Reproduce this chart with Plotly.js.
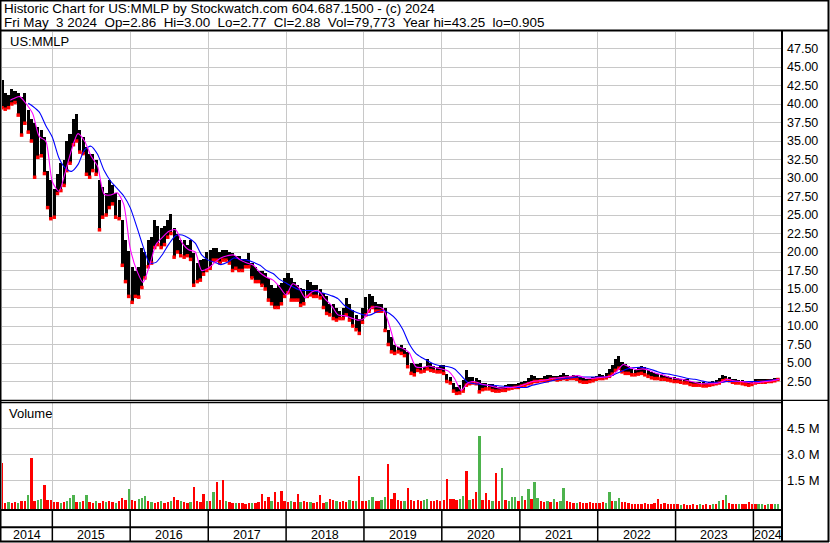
<!DOCTYPE html>
<html><head><meta charset="utf-8">
<script src="https://cdn.plot.ly/plotly-3.0.1.min.js"></script>
<style>html,body{margin:0;padding:0;background:#fff;}#chart{width:830px;height:543px;}</style>
</head><body><div id="chart"></div>
<script>
// ---------- DATA ----------
// half-month sampling grid (10th and 25th of each month), May 2014 .. Apr 2024
const periods = [];
(function(){ let y=2014, m=5; while(periods.length<240){ const mm=(m<10?'0':'')+m; periods.push(y+'-'+mm+'-10', y+'-'+mm+'-25'); m++; if(m>12){m=1;y++;} } })();

const priceHigh = [43.2,41.5,41.2,42.0,41.8,41.5,41.0,41.5,39.2,38.0,37.4,36.9,36.5,35.5,31.0,29.7,
 28.5,30.6,32.0,32.5,35.0,36.0,38.0,38.6,36.5,35.5,34.2,33.3,33.3,32.5,29.7,28.8,
 28.0,29.7,29.0,28.0,27.0,24.3,21.6,20.2,18.0,17.5,18.0,20.6,20.0,21.6,22.0,24.3,
 23.5,23.3,23.5,24.3,25.2,23.3,22.5,21.6,21.6,21.0,21.6,19.8,18.5,18.9,19.0,20.0,
 20.3,20.6,20.6,20.0,20.3,20.3,20.0,19.8,19.5,19.5,19.0,19.0,19.8,18.5,18.0,17.5,
 17.5,17.1,16.5,15.5,15.2,15.5,15.8,16.5,17.1,16.5,16.0,15.5,15.2,15.0,16.2,16.0,
 15.5,15.5,15.0,14.4,14.0,13.0,13.0,12.5,12.0,12.5,13.8,13.0,12.1,11.5,11.0,12.5,
 13.9,14.3,14.0,13.2,13.0,13.0,12.5,9.5,8.5,7.4,7.2,7.4,7.0,6.5,5.0,4.8,
 4.8,5.0,4.5,5.6,5.0,4.6,4.5,4.7,4.7,3.5,3.1,2.3,1.8,2.0,2.7,4.0,
 3.1,3.1,3.0,2.7,2.3,2.3,2.2,2.1,1.9,1.8,1.7,2.0,2.2,2.1,2.2,2.3,
 2.4,2.6,3.0,3.4,3.2,3.0,3.0,3.3,3.4,3.4,3.3,3.3,3.4,3.6,3.4,3.3,
 3.4,3.3,3.1,3.0,2.9,2.9,3.1,3.2,3.5,3.4,3.6,4.2,4.7,5.5,6.0,5.1,
 4.8,4.6,4.2,4.0,4.4,4.6,4.4,4.0,3.8,3.6,3.5,3.4,3.3,3.2,3.1,3.1,
 3.0,2.9,2.8,2.8,2.6,2.5,2.4,2.4,2.4,2.3,2.5,2.6,2.7,3.0,3.4,3.3,
 3.1,2.8,2.8,2.7,2.7,2.6,2.5,2.6,2.8,2.9,2.9,2.9,2.9,2.9,3.0,3.0];

const priceLow = [39.5,39.3,39.5,40.0,40.2,38.5,35.8,37.4,36.2,35.0,30.1,32.8,33.0,30.6,26.0,24.5,
 24.7,27.9,28.3,29.0,31.0,32.0,34.5,35.0,33.5,33.3,30.5,30.1,31.0,30.5,23.0,24.7,
 25.0,26.0,26.5,24.7,24.5,18.2,16.0,14.0,13.2,14.0,13.9,15.2,16.5,18.0,18.5,20.6,
 21.0,20.6,21.0,22.0,22.5,19.3,20.0,19.5,19.3,19.5,19.0,15.5,16.0,16.2,17.0,17.5,
 17.8,18.9,18.9,18.5,18.9,18.9,18.5,17.5,17.8,17.5,17.5,18.0,18.0,16.5,16.0,16.0,
 15.5,15.0,13.5,13.0,12.5,12.5,13.0,14.0,14.5,13.5,13.5,13.5,12.8,13.0,14.0,14.2,
 14.0,14.0,13.8,12.5,11.7,11.5,11.0,10.8,11.0,11.0,11.5,10.8,10.0,9.5,9.0,10.5,
 11.5,12.0,12.5,12.0,12.0,12.0,9.4,7.5,6.5,6.3,6.5,6.3,6.0,4.5,3.6,3.4,
 4.0,3.8,3.9,4.2,4.0,3.9,3.8,3.8,3.6,2.5,2.3,1.2,0.9,0.95,1.2,2.0,
 2.2,2.3,2.2,1.1,1.4,1.5,1.5,1.3,1.2,1.2,1.3,1.3,1.5,1.6,1.7,1.7,
 1.9,2.0,2.2,2.3,2.5,2.5,2.6,2.6,2.6,2.8,2.8,2.7,2.8,2.9,2.8,2.9,
 2.9,2.8,2.5,2.4,2.4,2.5,2.6,2.8,2.9,2.9,3.0,3.2,3.5,4.0,4.3,3.8,
 3.6,3.6,3.4,3.4,3.5,3.6,3.4,3.2,3.0,2.9,2.9,2.8,2.8,2.7,2.6,2.5,
 2.5,2.4,2.3,2.3,2.1,2.0,2.0,2.0,1.9,1.9,2.0,2.1,2.2,2.3,2.6,2.7,
 2.6,2.4,2.3,2.3,2.2,2.1,2.0,2.1,2.3,2.4,2.4,2.4,2.5,2.5,2.6,2.77];

// volume in millions and day direction (u = up/green, d = down/red)
const volumeM = [2.5,0.2,0.25,0.2,0.25,0.2,0.3,0.3,0.65,2.8,0.3,0.35,0.42,1.23,0.35,0.35,
 0.25,0.25,0.2,0.25,0.3,0.5,0.65,0.25,0.25,0.3,0.65,0.25,0.2,0.3,0.2,0.3,0.25,0.3,0.25,0.2,0.3,0.5,0.35,1.0,
 0.35,0.3,0.4,0.45,0.6,0.3,0.25,0.2,0.25,0.3,0.2,0.25,0.3,0.55,0.35,0.3,0.25,0.2,0.25,1.13,0.3,0.25,0.7,0.3,
 0.3,0.84,1.38,0.35,1.52,0.3,0.25,0.2,0.2,0.2,0.2,0.15,0.2,0.2,0.2,0.25,0.7,0.3,0.55,0.3,0.84,0.25,0.9,0.3,
 0.25,0.3,0.25,0.7,0.25,0.3,0.25,0.25,0.2,0.25,0.65,0.2,0.25,0.4,0.35,0.3,0.25,0.3,0.25,0.35,0.3,0.3,1.75,0.3,
 0.3,0.35,0.55,0.3,0.3,0.35,0.55,2.44,0.4,0.75,0.35,0.3,0.3,1.04,0.35,0.3,0.35,0.3,0.35,0.42,0.3,0.3,0.35,0.3,
 0.35,1.58,0.4,0.4,0.35,0.4,0.58,2.04,0.35,0.4,0.8,4.06,0.35,0.75,0.35,0.3,1.9,0.3,2.19,0.35,0.3,0.55,0.55,0.3,
 0.6,0.35,0.98,0.4,1.38,0.45,0.3,0.25,0.3,0.25,0.44,0.25,0.3,1.04,0.3,0.25,0.2,0.2,0.25,0.2,0.2,0.25,0.2,0.2,
 0.2,0.25,0.2,0.8,0.3,0.3,0.5,0.25,0.25,0.2,0.15,0.15,0.15,0.15,0.2,0.15,0.15,0.2,0.4,0.15,0.2,0.15,0.15,0.12,
 0.12,0.1,0.12,0.1,0.1,0.12,0.1,0.12,0.1,0.12,0.1,0.12,0.15,0.3,0.35,0.66,0.2,0.15,0.15,0.15,0.12,0.15,0.23,0.15,
 0.15,0.12,0.12,0.1,0.12,0.12,0.15,0.15];
const volumeDir = ['d','d','u','d','d','u','d','d','u','d','d','u','u','d','d','d',
 'd','d','u','d','u','u','u','d','u','d','u','d','d','u','d','d','u','d','d','u','d','d','d','u',
 'd','d','u','u','u','d','u','d','d','u','d','d','u','d','d','u','d','d','u','d','d','d','d','u',
 'd','u','d','d','d','u','d','d','u','d','d','d','d','u','d','d','d','d','d','u','d','d','d','d',
 'd','u','d','d','u','d','d','u','d','d','d','d','u','d','d','u','d','d','d','u','d','u','d','d',
 'd','u','u','d','d','u','u','d','d','d','d','d','u','d','d','d','d','d','u','u','d','d','d','d',
 'd','d','d','d','d','u','u','d','u','d','d','u','d','d','d','u','d','d','u','d','u','u','u','d',
 'u','d','u','d','u','u','d','d','u','d','u','d','u','u','d','d','d','u','d','d','d','d','d','d',
 'd','d','u','u','d','u','u','d','d','d','d','d','d','d','d','d','d','d','d','d','d','d','d','d',
 'd','u','d','d','d','d','d','u','d','d','d','u','d','u','d','u','d','d','d','u','d','d','d','d',
 'd','u','u','d','u','d','u','u'];

// moving averages
const maShortDates = ['2014-06-18'].concat((function(){const a=[];let y=2014,m=7;for(let k=0;k<119;k++){a.push(y+'-'+(m<10?'0':'')+m+'-01');m++;if(m>12){m=1;y++;}}return a;})());
const maShort = [40.5, 40.7,41.0,40.0,38.7,35.6,35.0,
 29.5,28.2,30.6,33.8,36.0,35.0,33.0,31.6,27.8,27.7,28.0,26.5,
 20.5,17.5,15.9,18.2,21.0,22.0,22.8,23.0,21.2,20.3,20.0,17.5,
 17.8,18.6,19.2,19.5,19.6,18.9,18.5,18.2,17.2,16.6,16.2,15.3,
 14.2,15.7,15.2,13.8,14.6,14.8,13.7,12.8,11.5,11.4,11.1,10.8,
 11.0,12.4,12.6,12.3,10.0,7.3,7.0,6.4,4.5,4.4,4.6,4.4,
 4.2,3.9,2.9,1.3,2.3,2.5,2.2,2.0,1.8,1.6,1.7,1.7,
 1.9,2.2,2.5,2.6,2.7,2.9,3.0,3.1,3.2,3.3,3.0,2.9,
 3.0,3.1,3.2,3.9,4.8,4.4,4.1,4.2,4.0,3.6,3.4,3.1,
 2.9,2.8,2.6,2.4,2.2,2.2,2.2,2.4,2.8,2.6,2.5,2.4,
 2.3,2.4,2.5,2.6,2.8];
const maLongDates = ['2014-09-10'].concat((function(){const a=[];let y=2014,m=10;for(let k=0;k<116;k++){a.push(y+'-'+(m<10?'0':'')+m+'-01');m++;if(m>12){m=1;y++;}}return a;})());
const maLong = [40.1, 39.7,38.9,37.1,
 35.5,32.7,31.4,30.9,31.8,33.8,34.3,33.2,31.0,29.6,28.6,27.6,
 26.0,23.4,20.8,18.5,18.6,19.7,21.1,22.2,22.3,21.9,21.2,19.6,
 18.9,18.6,18.3,18.6,19.2,19.0,18.9,18.6,18.2,17.5,17.1,16.3,
 15.8,15.3,14.9,14.8,14.8,14.6,14.4,14.1,13.7,12.8,12.2,11.8,
 11.5,11.5,11.9,12.1,11.7,10.9,9.6,7.6,6.3,5.7,5.2,4.8,
 4.6,4.5,4.2,3.3,2.4,2.2,2.1,2.0,2.0,1.9,1.8,1.7,
 1.7,1.7,2.0,2.2,2.4,2.6,2.8,2.9,3.0,3.1,3.1,3.1,
 3.1,3.1,3.2,3.6,4.0,4.3,4.4,4.4,4.2,3.9,3.6,3.5,
 3.3,3.1,2.9,2.8,2.6,2.4,2.4,2.4,2.5,2.5,2.5,2.5,
 2.5,2.5,2.6,2.7,2.8];

const priceTicks = [2.5,5,7.5,10,12.5,15,17.5,20,22.5,25,27.5,30,32.5,35,37.5,40,42.5,45,47.5];
const volTicks = [1.5e6, 3.0e6, 4.5e6];
const volTickText = ['1.5 M','3.0 M','4.5 M'];
const years = ['2014','2015','2016','2017','2018','2019','2020','2021','2022','2023','2024'];
const headerLine1 = 'Historic Chart for US:MMLP by Stockwatch.com 604.687.1500 - (c) 2024';
const headerLine2 = 'Fri May\u00a0\u00a03 2024\u00a0\u00a0Op=2.86\u00a0\u00a0Hi=3.00\u00a0\u00a0Lo=2.77\u00a0\u00a0Cl=2.88\u00a0\u00a0Vol=79,773\u00a0\u00a0Year hi=43.25\u00a0\u00a0lo=0.905';
const symbol = 'US:MMLP';

// ---------- LAYOUT ----------
const FONT = 'Liberation Sans, Arial, sans-serif';
const GRID = '#c8c8c8';
const X0 = '2014-05-10', X1 = '2024-05-14';
const PL = 2, PT = 32, PW = 780, PH = 478;
const px = X => (X - PL) / PW;
const py = Y => (PT + PH - Y) / PH;
const t0 = Date.parse(X0), t1 = Date.parse(X1);
const dp = d => (Date.parse(d) - t0) / (t1 - t0);
const DAY = 86400000;
const VOL_BOTTOM = -0.215e6;

const yearStarts = years.slice(1).map(y => y + '-01-01');

const traces = [
  { type:'scatter', mode:'markers', x: periods, y: priceLow,
    marker:{color:'#ff0000', size:3.5, symbol:'square', line:{width:0}}, xaxis:'x', yaxis:'y', hoverinfo:'skip' },
  { type:'bar', x: periods, base: priceLow, y: priceHigh.map((h,i)=>h-priceLow[i]),
    width: 14.5*DAY, marker:{color:'#000', line:{width:0}}, xaxis:'x', yaxis:'y', hoverinfo:'skip' },
  { type:'scatter', mode:'lines', x: maLongDates, y: maLong, line:{color:'#0000ff', width:1.1, shape:'spline', smoothing:0.7}, xaxis:'x', yaxis:'y', hoverinfo:'skip' },
  { type:'scatter', mode:'lines', x: maShortDates, y: maShort, line:{color:'#ff00ff', width:1.1, shape:'spline', smoothing:0.7}, xaxis:'x', yaxis:'y', hoverinfo:'skip' },
  { type:'bar', x: periods, base: VOL_BOTTOM, y: volumeM.map(v => v*1e6 - VOL_BOTTOM),
    width: 11*DAY, marker:{color: volumeDir.map(d => d==='u' ? '#4db34d' : '#ff0000'), line:{width:0}},
    xaxis:'x2', yaxis:'y2', hoverinfo:'skip' }
];

const shapes = [];
const L = (x0,y0,x1,y1,w) => shapes.push({type:'line', xref:'paper', yref:'paper', x0:px(x0), x1:px(x1), y0:py(y0), y1:py(y1), line:{color:'#000', width:w}});
L(0,0.5,829,0.5,2);      // top border
L(0.5,0,0.5,542,2);      // left border
L(828.5,0,828.5,542,2);  // right border
L(0,541.5,829,541.5,2);  // bottom border
L(0,30.5,829,30.5,2);    // header separator
L(782,31,782,542,2);     // right axis line
L(0,400.3,829,400.3,1.3);
L(0,402.5,782,402.5,1.3);
L(0,510,782,510,2);
L(0,527.3,782,527.3,2);
yearStarts.forEach(d => {
  const xp = dp(d);
  shapes.push({type:'line', xref:'paper', yref:'paper', x0:xp, x1:xp, y0:py(510), y1:py(542), line:{color:'#000', width:1.5}});
});

const annotations = [];
const A = (text, X, Y, size, anchor) => annotations.push({text, xref:'paper', yref:'paper', x:px(X), y:py(Y), xanchor:anchor||'left', yanchor:'middle', showarrow:false, font:{family:FONT, size:size, color:'#000'}});
A(headerLine1, 2, 8.5, 13.4);
A(headerLine2, 2, 22.5, 13.4);
A(symbol, 8, 41, 13);
A('Volume', 7, 413, 13);
const bounds = [X0].concat(yearStarts).concat([X1]);
years.forEach((y,i) => {
  const c = (dp(bounds[i]) + dp(bounds[i+1])) / 2;
  annotations.push({text:y, xref:'paper', yref:'paper', x:c, y:py(534.5), xanchor:'center', yanchor:'middle', showarrow:false, font:{family:FONT, size:12.5, color:'#000'}});
});

const xcommon = { type:'date', range:[X0, X1], tickvals: yearStarts, showticklabels:false, ticks:'', showgrid:true, gridcolor:GRID, gridwidth:1, zeroline:false, showline:false };

const layout = {
  width:830, height:543, paper_bgcolor:'#fff', plot_bgcolor:'#fff',
  margin:{l:PL, r:830-PL-PW, t:PT, b:543-PT-PH, pad:0},
  showlegend:false, barmode:'overlay', bargap:0,
  font:{family:FONT, color:'#000'},
  xaxis: Object.assign({}, xcommon, {anchor:'y', domain:[0,1]}),
  xaxis2: Object.assign({}, xcommon, {anchor:'y2', domain:[0,1], matches:'x'}),
  yaxis: { domain:[py(400), 1], range:[0, 49.73], side:'right', anchor:'x', tickvals: priceTicks, tickformat:'.2f',
           ticks:'', showgrid:true, gridcolor:GRID, gridwidth:1, zeroline:false, showline:false, ticklabelstandoff:4,
           tickfont:{family:FONT, size:12.5, color:'#000'} },
  yaxis2: { domain:[0, py(402)], range:[VOL_BOTTOM, 6.017e6], side:'right', anchor:'x2', tickvals: volTicks, ticktext: volTickText,
           ticks:'', showgrid:true, gridcolor:GRID, gridwidth:1, zeroline:false, showline:false, ticklabelstandoff:4,
           tickfont:{family:FONT, size:13, color:'#000'} },
  shapes, annotations
};

Plotly.newPlot('chart', traces, layout, {staticPlot:true, displayModeBar:false});
</script></body></html>
